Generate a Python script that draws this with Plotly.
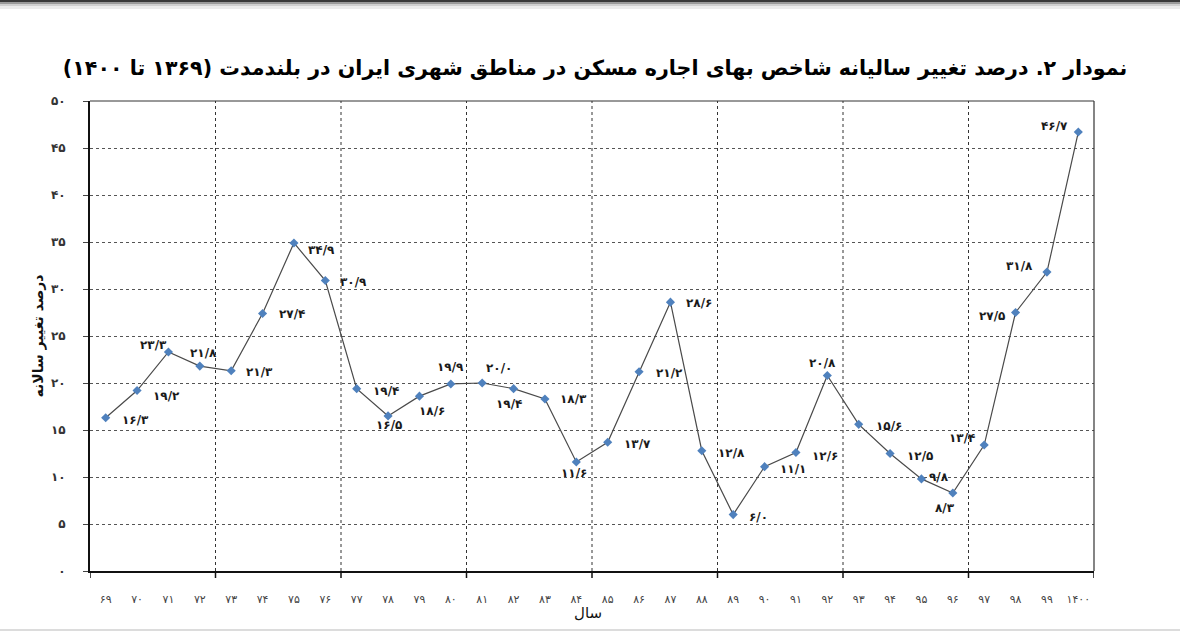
import plotly.graph_objects as go

# ---------------- data ----------------
years = ['69', '70', '71', '72', '73', '74', '75', '76', '77', '78', '79', '80',
         '81', '82', '83', '84', '85', '86', '87', '88', '89', '90', '91', '92',
         '93', '94', '95', '96', '97', '98', '99', '1400']
values = [16.3, 19.2, 23.3, 21.8, 21.3, 27.4, 34.9, 30.9, 19.4, 16.5, 18.6, 19.9,
          20.0, 19.4, 18.3, 11.6, 13.7, 21.2, 28.6, 12.8, 6.0, 11.1, 12.6, 20.8,
          15.6, 12.5, 9.8, 8.3, 13.4, 27.5, 31.8, 46.7]
y_ticks = [0, 5, 10, 15, 20, 25, 30, 35, 40, 45, 50]

title_text = 'نمودار ۲. درصد تغییر سالیانه شاخص بهای اجاره مسکن در مناطق شهری ایران در بلندمدت (۱۳۶۹ تا ۱۴۰۰)'
y_title = 'درصد تغییر سالانه'
x_title = 'سال'

# label offsets (screen px, dx right, dy down) relative to each point
label_offsets = [(30, 2), (29, 5), (-15, -7), (4, -13), (28, 1), (29, 1), (28, 7), (28, 1),
                 (29, 2), (1, 9), (13, 15), (0, -17), (17, -15), (-5, 15), (29, 0), (-2, 11),
                 (30, 2), (30, 1), (29, 1), (30, 2), (25, 2), (28, 2), (29, 3), (-5, -12),
                 (30, 2), (30, 2), (18, -2), (-8, 15), (-22, -7), (-24, 3), (-27, -6), (-24, -6)]

FA = str.maketrans('0123456789', '۰۱۲۳۴۵۶۷۸۹')


def fa(s):
    return str(s).translate(FA)


RLM = '\u200f'

# ---------------- geometry ----------------
W, H = 1180, 631
L, R, T, B = 90, 86, 101, 60
PW, PH = W - L - R, H - T - B


def px_x(px):
    return (px - L) / PW


def px_y(py):
    return 1 - (py - T) / PH


n = len(years)
xs = list(range(n))

FONT = 'DejaVu Sans'

fig = go.Figure()
fig.add_trace(go.Scatter(
    x=xs, y=values, mode='lines+markers',
    line=dict(color='#4a4a4a', width=1.2),
    marker=dict(symbol='diamond', size=7, color='#4f81bd'),
    hoverinfo='skip', showlegend=False,
))

annotations = []
for i, v in enumerate(values):
    dx, dy = label_offsets[i]
    annotations.append(dict(
        x=xs[i], y=v, xref='x', yref='y', text=fa(f'{v:.1f}').replace('.', '/'),
        showarrow=False, xanchor='center', yanchor='middle', xshift=dx, yshift=-dy,
        font=dict(family=FONT, size=12, color='#1a1a1a', weight='bold')))

annotations.append(dict(
    x=px_x(588), y=px_y(613), xref='paper', yref='paper', text=x_title,
    showarrow=False, xanchor='center', yanchor='middle',
    font=dict(family=FONT, size=15, color='#111')))

shapes = []
# vertical dotted gridlines every 4 categories + ticks below axis
for i in range(0, n + 1, 4):
    xb = i - 0.5
    if 0 < i < n:
        shapes.append(dict(type='line', xref='x', yref='paper', x0=xb, x1=xb, y0=0, y1=1,
                           line=dict(color='#333', width=1, dash='dot'), layer='below'))
    shapes.append(dict(type='line', xref='x', yref='paper', x0=xb, x1=xb, y0=0, y1=px_y(T + PH + 7),
                       line=dict(color='#111', width=1.5)))
# top and right frame
shapes.append(dict(type='line', xref='paper', yref='paper', x0=0, x1=1, y0=1, y1=1,
                   line=dict(color='#333', width=1)))
shapes.append(dict(type='line', xref='paper', yref='paper', x0=1, x1=1, y0=0, y1=1,
                   line=dict(color='#333', width=1.2)))
# page top dark band with shadow and bottom light rule
for (y0, y1, c) in [(0, 2.5, '#3a3a3a'), (2.5, 4, '#9a9a9a'), (4, 6, '#d0d0d0'), (6, 9, '#ececec')]:
    shapes.append(dict(type='rect', xref='paper', yref='paper', x0=px_x(0), x1=px_x(W),
                       y0=px_y(y1), y1=px_y(y0), fillcolor=c, line=dict(width=0)))
shapes.append(dict(type='rect', xref='paper', yref='paper', x0=px_x(0), x1=px_x(W),
                   y0=px_y(631), y1=px_y(629), fillcolor='#dcdcdc', line=dict(width=0)))

fig.update_layout(
    width=W, height=H,
    margin=dict(l=L, r=R, t=T, b=B, pad=0),
    paper_bgcolor='white', plot_bgcolor='white',
    title=dict(text=RLM + title_text + RLM, x=595 / W, xref='container', xanchor='center',
               y=1 - 68 / H, yref='container', yanchor='middle',
               font=dict(family=FONT, size=20.6, color='#000', weight='bold')),
    xaxis=dict(
        range=[-0.5, n - 0.5], tickmode='array', tickvals=xs, ticktext=[fa(y) for y in years],
        showgrid=False, zeroline=False, showline=True, linecolor='#111', linewidth=2,
        ticks='', tickfont=dict(family=FONT, size=11, color='#444'),
        ticklabelstandoff=17, fixedrange=True,
    ),
    yaxis=dict(
        range=[0, 50], tickmode='array', tickvals=y_ticks, ticktext=[fa(t) for t in y_ticks],
        showgrid=True, gridcolor='#555', griddash='dot', gridwidth=1,
        zeroline=False, showline=True, linecolor='#111', linewidth=2,
        ticks='outside', ticklen=5, tickcolor='#444', tickwidth=1,
        tickfont=dict(family=FONT, size=12, color='#333', weight='bold'),
        ticklabelstandoff=15,
        title=dict(text=y_title, standoff=4, font=dict(family=FONT, size=14, color='#111', weight='bold')),
        fixedrange=True,
    ),
    annotations=annotations, shapes=shapes,
)

fig.write_html('out.html')
